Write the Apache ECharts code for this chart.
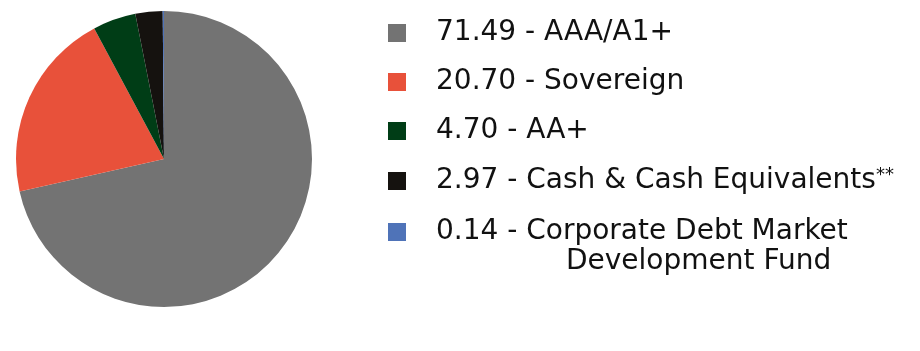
<!DOCTYPE html>
<html><head><meta charset="utf-8">
<script src="https://cdn.jsdelivr.net/npm/echarts@6/dist/echarts.min.js"></script>
<style>html,body{margin:0;padding:0;background:#fff}#c{width:920px;height:351px}</style>
</head><body><div id="c"></div>
<script>
const categories = ['AAA/A1+', 'Sovereign', 'AA+', 'Cash & Cash Equivalents**', 'Corporate Debt Market Development Fund'];
const values = [71.49, 20.70, 4.70, 2.97, 0.14];
const colors = ['#737373', '#e8513a', '#003d16', '#15120f', '#4f73b8'];

const FONT = 'DejaVu Sans';
const FS = 28;
const chart = echarts.init(document.getElementById('c'), null, {renderer: 'canvas'});
const data = categories.map((n, i) => ({name: n, value: values[i], itemStyle: {color: colors[i]}}));
function fmt(name) {
  const i = categories.indexOf(name);
  const v = values[i].toFixed(2);
  if (name === 'Corporate Debt Market Development Fund') {
    return '{a|' + v + ' - Corporate Debt Market}\n{b|Development Fund}';
  }
  if (name === 'Cash & Cash Equivalents**') {
    return '{a|' + v + ' - Cash & Cash Equivalents}{s|**}';
  }
  return '{a|' + v + ' - ' + name + '}';
}
const rich = {
  a: {fontFamily: FONT, fontSize: FS, color: '#111', lineHeight: 30},
  s: {fontFamily: FONT, fontSize: 18, color: '#111', lineHeight: 30, verticalAlign: 'top', padding: [0, 0, 8, 0]},
  b: {fontFamily: FONT, fontSize: FS, color: '#111', lineHeight: 30, padding: [0, 0, 0, 130]}
};
const legendBase = {
  orient: 'vertical',
  left: 383,
  icon: 'rect',
  itemWidth: 18,
  itemHeight: 18,
  itemGap: 21,
  selectedMode: false,
  formatter: fmt
};
chart.setOption({
  animation: false,
  legend: [
    Object.assign({}, legendBase, {
      top: 14,
      data: categories.slice(0, 4),
      textStyle: {fontFamily: FONT, fontSize: FS, color: '#111', padding: [0, 0, 0, 25], rich: rich}
    }),
    Object.assign({}, legendBase, {
      top: 213,
      data: categories.slice(4),
      textStyle: {fontFamily: FONT, fontSize: FS, color: '#111', padding: [30, 0, 0, 25], rich: rich}
    })
  ],
  series: [{
    type: 'pie',
    center: [164, 159],
    radius: [0, 148],
    startAngle: 90,
    clockwise: true,
    label: {show: false},
    labelLine: {show: false},
    itemStyle: {borderWidth: 0},
    emphasis: {disabled: true},
    data: data
  }]
});
</script></body></html>
